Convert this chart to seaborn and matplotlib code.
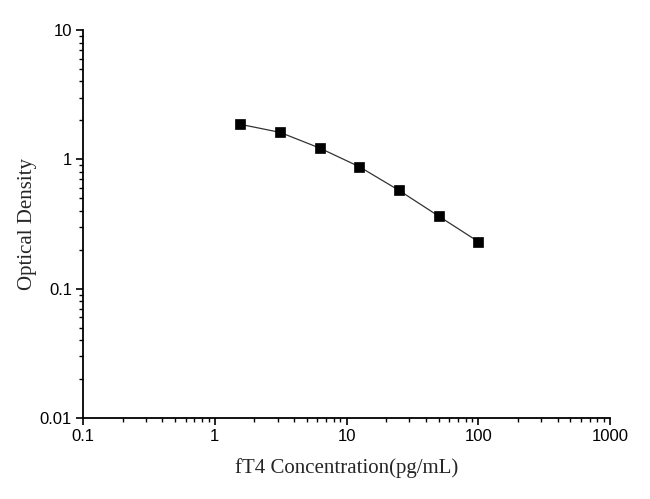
import matplotlib
matplotlib.use("Agg")
import matplotlib.pyplot as plt
import seaborn as sns
import pandas as pd
from matplotlib.ticker import LogLocator, FixedLocator, NullFormatter

concentration = [1.5625, 3.125, 6.25, 12.5, 25, 50, 100]
optical_density = [1.865, 1.617, 1.223, 0.877, 0.576, 0.364, 0.231]
x_ticks = [0.1, 1, 10, 100, 1000]
x_tick_labels = ["0.1", "1", "10", "100", "1000"]
y_ticks = [0.01, 0.1, 1, 10]
y_tick_labels = ["0.01", "0.1", "1", "10"]

df = pd.DataFrame({"conc": concentration, "od": optical_density})

sns.set_theme(style="ticks")
plt.rcParams["font.family"] = ["Liberation Sans", "DejaVu Sans"]

fig = plt.figure(figsize=(6.5, 4.99), dpi=100)
ax = fig.add_axes([0.1277, 0.1623, 0.8108, 0.7776])

sns.lineplot(data=df, x="conc", y="od", ax=ax, color="#333333", linewidth=0.9,
             marker="s", markersize=7, markerfacecolor="black",
             markeredgecolor="black", markeredgewidth=0.5)

ax.set_xscale("log")
ax.set_yscale("log")
ax.set_xlim(0.1, 1000)
ax.set_ylim(0.01, 10)

ax.xaxis.set_major_locator(FixedLocator(x_ticks))
ax.set_xticklabels(x_tick_labels)
ax.yaxis.set_major_locator(FixedLocator(y_ticks))
ax.set_yticklabels(y_tick_labels)
ax.xaxis.set_minor_locator(LogLocator(base=10, subs=range(2, 10), numticks=20))
ax.yaxis.set_minor_locator(LogLocator(base=10, subs=range(2, 10), numticks=20))
ax.xaxis.set_minor_formatter(NullFormatter())
ax.yaxis.set_minor_formatter(NullFormatter())

ax.tick_params(which="major", direction="out", length=5, width=1.2, colors="black",
               labelsize=12, pad=3)
ax.tick_params(which="minor", direction="out", length=3, width=1.0, colors="black")

for side in ["top", "right"]:
    ax.spines[side].set_visible(False)
for side in ["left", "bottom"]:
    ax.spines[side].set_linewidth(1.3)
    ax.spines[side].set_color("black")

ax.set_xlabel("fT4 Concentration(pg/mL)", fontsize=15,
              family=["Liberation Serif", "DejaVu Serif"], labelpad=10)
ax.set_ylabel("Optical Density", fontsize=15,
              family=["Liberation Serif", "DejaVu Serif"], labelpad=2)

fig.savefig("out.png", dpi=100, facecolor="white")
